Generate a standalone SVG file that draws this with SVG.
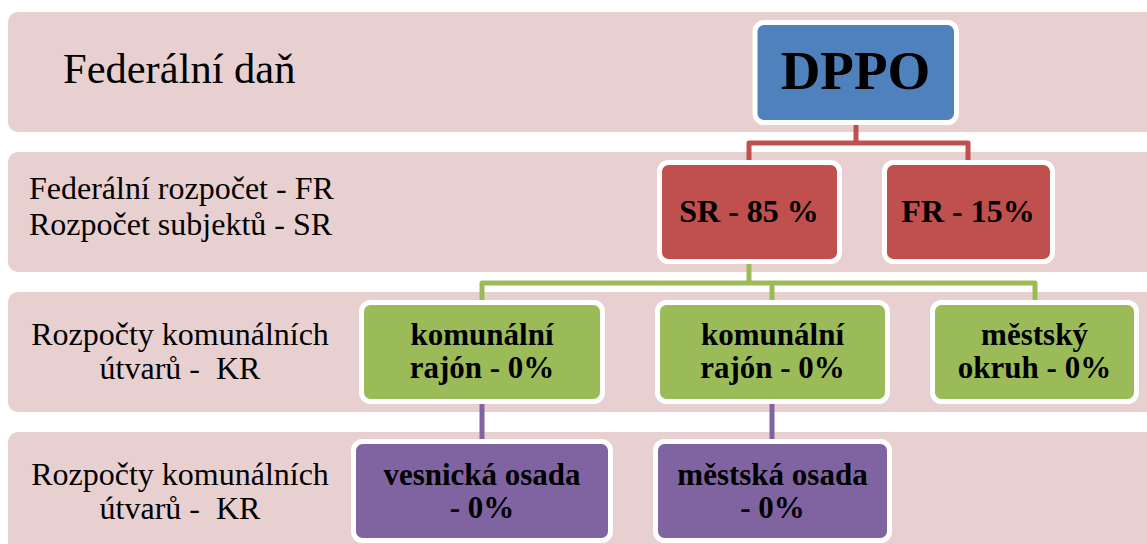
<svg xmlns="http://www.w3.org/2000/svg" width="1147" height="544" viewBox="0 0 1147 544">
<style>
.band{fill:#E8D0D1}
.lbl{font-family:'Liberation Serif','Times New Roman',serif;font-size:32px;fill:#000}
.node rect{stroke:#fff;stroke-width:5}
.nt{font-family:'Liberation Serif','Times New Roman',serif;font-weight:bold;font-size:31px;fill:#000;text-anchor:middle}
.blue{fill:#4F81BD}.red{fill:#C0504D}.green{fill:#9BBB59}.purple{fill:#8064A2}
.c{fill:none;stroke-width:5;stroke-linejoin:round}
</style>
<rect width="1147" height="544" fill="#fff"/>
<g id="bands">
<rect class="band" x="8" y="12" width="1160" height="120" rx="10"/>
<rect class="band" x="8" y="152" width="1160" height="120" rx="10"/>
<rect class="band" x="8" y="292" width="1160" height="120" rx="10"/>
<rect class="band" x="8" y="432" width="1160" height="130" rx="10"/>
</g>
<g id="labels">
<text class="lbl" x="63" y="83" style="font-size:42.5px">Federální daň</text>
<text class="lbl" x="29" y="199">Federální rozpočet - FR</text>
<text class="lbl" x="29" y="235">Rozpočet subjektů - SR</text>
<text class="lbl" x="180" y="345" text-anchor="middle">Rozpočty komunálních</text>
<text class="lbl" x="180" y="379" text-anchor="middle" xml:space="preserve">útvarů -  KR</text>
<text class="lbl" x="180" y="485" text-anchor="middle">Rozpočty komunálních</text>
<text class="lbl" x="180" y="519" text-anchor="middle" xml:space="preserve">útvarů -  KR</text>
</g>
<g id="connectors">
<path class="c" stroke="#C0504D" d="M856 124V143H749V163M856 143H968V163"/>
<path class="c" stroke="#9BBB59" d="M749 263V283H482V302M749 283H1035V302M772 283V302"/>
<path class="c" stroke="#8064A2" d="M482 403V441M772 403V441"/>
</g>
<g id="n-dppo" class="node">
<rect class="blue" x="755" y="22.5" width="201.5" height="100" rx="9"/>
<text class="nt" x="855.5" y="89" style="font-size:55px">DPPO</text>
</g>
<g id="n-sr" class="node">
<rect class="red" x="659.5" y="162.5" width="180" height="99" rx="9"/>
<text class="nt" x="749" y="222" style="font-size:32px">SR - 85 %</text>
</g>
<g id="n-fr" class="node">
<rect class="red" x="884.5" y="162.5" width="168" height="99" rx="9"/>
<text class="nt" x="968" y="222" style="font-size:32px">FR - 15%</text>
</g>
<g id="n-kr1" class="node">
<rect class="green" x="361.5" y="302.5" width="241" height="99" rx="9"/>
<text class="nt" x="482" y="345">komunální</text>
<text class="nt" x="482" y="378">rajón - 0%</text>
</g>
<g id="n-kr2" class="node">
<rect class="green" x="657.5" y="302.5" width="230" height="99" rx="9"/>
<text class="nt" x="772.5" y="345">komunální</text>
<text class="nt" x="772.5" y="378">rajón - 0%</text>
</g>
<g id="n-mo" class="node">
<rect class="green" x="932.5" y="302.5" width="204" height="99" rx="9"/>
<text class="nt" x="1034.5" y="345">městský</text>
<text class="nt" x="1034.5" y="378">okruh - 0%</text>
</g>
<g id="n-vo" class="node">
<rect class="purple" x="353.5" y="441.5" width="257" height="99" rx="9"/>
<text class="nt" x="482" y="485">vesnická osada</text>
<text class="nt" x="482" y="518">- 0%</text>
</g>
<g id="n-mso" class="node">
<rect class="purple" x="655.5" y="441.5" width="234" height="99" rx="9"/>
<text class="nt" x="772.5" y="485">městská osada</text>
<text class="nt" x="772.5" y="518">- 0%</text>
</g>
</svg>
